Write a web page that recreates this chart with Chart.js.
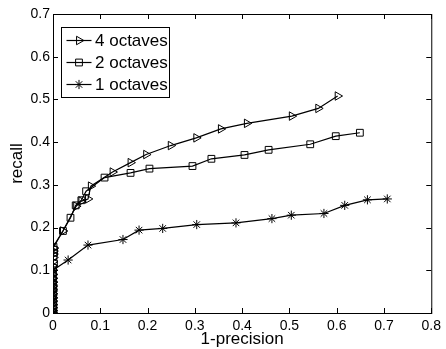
<!DOCTYPE html>
<html>
<head>
<meta charset="utf-8">
<script src="https://cdn.jsdelivr.net/npm/chart.js@4/dist/chart.umd.min.js"></script>
<style>
  html, body { margin: 0; padding: 0; background: #fff; }
  #wrap { width: 446px; height: 349px; }
</style>
</head>
<body>
<div id="wrap"><canvas id="prChart" width="446" height="349"></canvas></div>
<script>
// series names (legend order)
const seriesNames = ["4 octaves", "2 octaves", "1 octaves"];

// 4 octaves (1-precision, recall)
const oct4X = [0, 0, 0, 0, 0, 0, 0, 0, 0, 0, 0, 0, 0, 0, 0, 0.001, 0.001, 0.001, 0.002, 0.021, 0.049, 0.060, 0.074, 0.080, 0.126, 0.164, 0.197, 0.249, 0.303, 0.355, 0.410, 0.505, 0.561, 0.602];
const oct4Y = [0, 0.006, 0.013, 0.02, 0.028, 0.036, 0.045, 0.054, 0.063, 0.072, 0.081, 0.09, 0.10, 0.11, 0.12, 0.13, 0.138, 0.145, 0.152, 0.192, 0.250, 0.262, 0.267, 0.297, 0.330, 0.352, 0.371, 0.392, 0.410, 0.431, 0.444, 0.461, 0.479, 0.508];

// 2 octaves
const oct2X = [0, 0, 0, 0, 0, 0, 0, 0, 0, 0, 0, 0, 0.002, 0.001, 0.002, 0.002, 0.001, 0.021, 0.037, 0.048, 0.060, 0.070, 0.109, 0.164, 0.204, 0.295, 0.335, 0.405, 0.456, 0.544, 0.598, 0.649];
const oct2Y = [0, 0.009, 0.018, 0.027, 0.036, 0.046, 0.056, 0.066, 0.076, 0.086, 0.096, 0.106, 0.116, 0.133, 0.141, 0.148, 0.155, 0.192, 0.223, 0.252, 0.264, 0.285, 0.317, 0.328, 0.338, 0.344, 0.361, 0.370, 0.382, 0.395, 0.414, 0.422];

// 1 octaves
const oct1X = [0, 0, 0, 0, 0, 0, 0, 0, 0, 0, 0, 0, 0, 0, 0.032, 0.074, 0.148, 0.182, 0.232, 0.304, 0.387, 0.463, 0.504, 0.573, 0.617, 0.665, 0.707];
const oct1Y = [0, 0.004, 0.011, 0.018, 0.026, 0.034, 0.042, 0.05, 0.058, 0.066, 0.074, 0.082, 0.091, 0.10, 0.124, 0.159, 0.172, 0.194, 0.198, 0.207, 0.211, 0.221, 0.229, 0.233, 0.252, 0.265, 0.267];

// tick labels
const xTickLabels = ["0", "0.1", "0.2", "0.3", "0.4", "0.5", "0.6", "0.7", "0.8"];
const yTickLabels = ["0", "0.1", "0.2", "0.3", "0.4", "0.5", "0.6", "0.7"];

const FONT = "Arial, 'Liberation Sans', sans-serif";

function toPoints(xs, ys) {
  return xs.map((x, i) => ({ x: x, y: ys[i] }));
}

function makeSet(label, xs, ys, style, radius, rotation) {
  return {
    label: label,
    data: toPoints(xs, ys),
    showLine: true,
    borderColor: "#000",
    borderWidth: 1.2,
    pointStyle: style,
    pointRotation: rotation,
    pointRadius: radius,
    pointHoverRadius: radius,
    pointBorderColor: "#000",
    pointBackgroundColor: "rgba(0,0,0,0)",
    pointBorderWidth: 1,
  };
}

// box around the axes + inward ticks on all four sides, matlab style
const boxPlugin = {
  id: "boxTicks",
  afterDraw(chart) {
    const { ctx, chartArea: a, scales } = chart;
    ctx.save();
    ctx.strokeStyle = "#000";
    ctx.lineWidth = 1;
    ctx.strokeRect(a.left + 0.5, a.top + 0.5, a.right - a.left, a.bottom - a.top);
    ctx.beginPath();
    scales.x.ticks.forEach(t => {
      const px = Math.round(scales.x.getPixelForValue(t.value)) + 0.5;
      ctx.moveTo(px, a.bottom); ctx.lineTo(px, a.bottom - 5);
      ctx.moveTo(px, a.top); ctx.lineTo(px, a.top + 5);
    });
    scales.y.ticks.forEach(t => {
      const py = Math.round(scales.y.getPixelForValue(t.value)) + 0.5;
      ctx.moveTo(a.left, py); ctx.lineTo(a.left + 5, py);
      ctx.moveTo(a.right, py); ctx.lineTo(a.right - 5, py);
    });
    ctx.stroke();
    ctx.restore();
  }
};

// legend with line sample + marker, like the original figure
const legendPlugin = {
  id: "lineLegend",
  afterDraw(chart) {
    const ctx = chart.ctx;
    const box = { left: 61.5, top: 27.5, right: 169.5, bottom: 97.5 };
    ctx.save();
    ctx.fillStyle = "#fff";
    ctx.fillRect(box.left, box.top, box.right - box.left, box.bottom - box.top);
    ctx.strokeStyle = "#000";
    ctx.lineWidth = 1;
    ctx.strokeRect(box.left, box.top, box.right - box.left, box.bottom - box.top);
    const rows = [40.5, 62.5, 84.5];
    chart.data.datasets.forEach((ds, i) => {
      const yy = rows[i];
      ctx.beginPath();
      ctx.lineWidth = 1.2;
      ctx.moveTo(66.5, yy);
      ctx.lineTo(91.5, yy);
      ctx.stroke();
      ctx.lineWidth = 1;
      ctx.fillStyle = "rgba(0,0,0,0)";
      Chart.helpers.drawPoint(ctx, {
        pointStyle: ds.pointStyle,
        rotation: ds.pointRotation,
        radius: ds.pointRadius,
        borderWidth: 1
      }, 79, yy);
      ctx.fillStyle = "#000";
      ctx.font = "17px " + FONT;
      ctx.textBaseline = "middle";
      ctx.textAlign = "left";
      ctx.fillText(ds.label, 95, yy + 1);
    });
    ctx.restore();
  }
};

const ctx = document.getElementById("prChart").getContext("2d");
const chart = new Chart(ctx, {
  type: "scatter",
  data: {
    datasets: [
      makeSet(seriesNames[0], oct4X, oct4Y, "triangle", 4.9, 90),
      makeSet(seriesNames[1], oct2X, oct2Y, "rect", 4.8, 0),
      makeSet(seriesNames[2], oct1X, oct1Y, "star", 4.6, 0),
    ],
  },
  options: {
    responsive: false,
    animation: false,
    layout: { padding: { left: 0, top: 14, right: 13, bottom: 0 } },
    plugins: {
      legend: { display: false },
      tooltip: { enabled: false },
    },
    scales: {
      x: {
        type: "linear",
        min: 0,
        max: 0.8,
        grid: { display: false, drawTicks: false },
        border: { display: false },
        ticks: {
          stepSize: 0.1,
          padding: 5,
          color: "#000",
          font: { family: FONT, size: 14 },
          maxRotation: 0,
          callback: (v, i) => xTickLabels[i],
        },
        title: {
          display: true,
          text: "1-precision",
          color: "#000",
          font: { family: FONT, size: 17, lineHeight: 1 },
          padding: { top: 0, bottom: 1 },
        },
        afterFit: (scale) => { scale.height = 36; },
      },
      y: {
        type: "linear",
        min: 0,
        max: 0.7,
        grid: { display: false, drawTicks: false },
        border: { display: false },
        ticks: {
          stepSize: 0.1,
          padding: 3,
          color: "#000",
          font: { family: FONT, size: 14 },
          callback: (v, i) => yTickLabels[i],
        },
        title: {
          display: true,
          text: "recall",
          color: "#000",
          font: { family: FONT, size: 17 },
          padding: { top: 7.5, bottom: 0 },
        },
        afterFit: (scale) => { scale.width = 53; },
      },
    },
  },
  plugins: [boxPlugin, legendPlugin],
});
</script>
</body>
</html>
